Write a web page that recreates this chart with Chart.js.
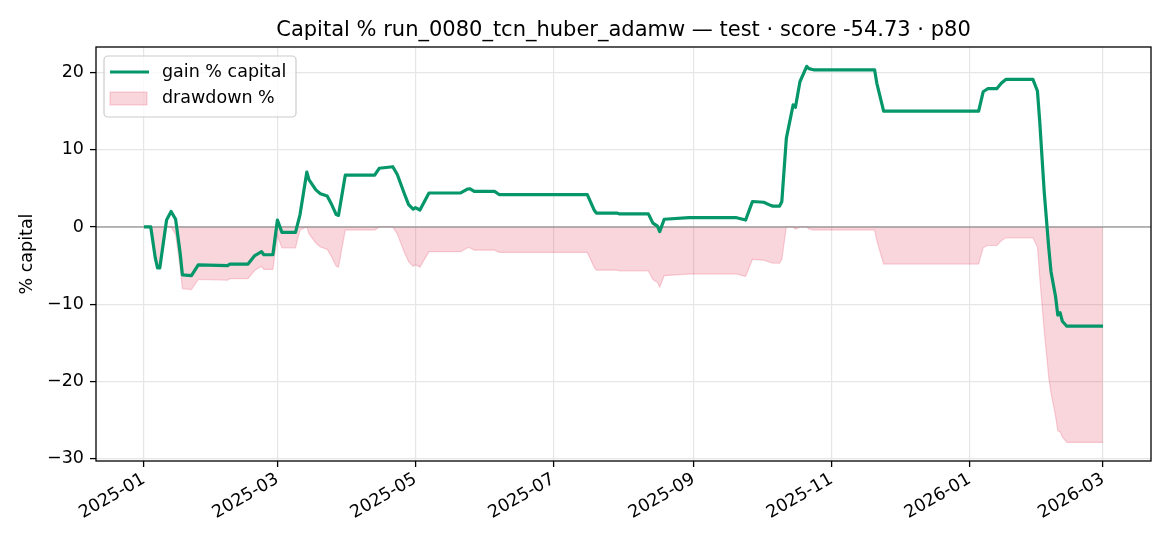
<!DOCTYPE html>
<html>
<head>
<meta charset="utf-8">
<script src="https://cdn.jsdelivr.net/npm/chart.js@4.4.1/dist/chart.umd.min.js"></script>
<style>
  html, body { margin: 0; padding: 0; background: #fff; }
  #wrap { width: 1170px; height: 546px; }
</style>
</head>
<body>
<div id="wrap"><canvas id="chart" width="1170" height="546"></canvas></div>
<script>
// ── Data ───────────────────────────────────────────────────────────────────
const dates = [
  "2025-01-01","2025-01-04","2025-01-06","2025-01-07","2025-01-08","2025-01-11","2025-01-13","2025-01-15",
  "2025-01-17","2025-01-18","2025-01-22","2025-01-25","2025-02-07","2025-02-08","2025-02-16","2025-02-19",
  "2025-02-22","2025-02-23","2025-02-27","2025-03-01","2025-03-03","2025-03-09","2025-03-11","2025-03-14",
  "2025-03-15","2025-03-18","2025-03-20","2025-03-23","2025-03-25","2025-03-27","2025-03-28","2025-03-31",
  "2025-04-13","2025-04-15","2025-04-21","2025-04-23","2025-04-26","2025-04-28","2025-04-30","2025-05-01",
  "2025-05-03","2025-05-05","2025-05-07","2025-05-21","2025-05-24","2025-05-25","2025-05-27","2025-06-05",
  "2025-06-07","2025-07-16","2025-07-19","2025-07-20","2025-07-29","2025-07-30","2025-08-12","2025-08-14",
  "2025-08-16","2025-08-17","2025-08-19","2025-08-30","2025-09-20","2025-09-24","2025-09-27","2025-10-02",
  "2025-10-05","2025-10-06","2025-10-09","2025-10-10","2025-10-12","2025-10-15","2025-10-16","2025-10-18",
  "2025-10-21","2025-10-22","2025-10-24","2025-11-20","2025-11-21","2025-11-24","2026-01-05","2026-01-07",
  "2026-01-09","2026-01-13","2026-01-15","2026-01-17","2026-01-29","2026-01-31","2026-02-01","2026-02-03",
  "2026-02-05","2026-02-06","2026-02-08","2026-02-09","2026-02-10","2026-02-11","2026-02-13","2026-03-01"
];
const gainPct = [
  0, 0, -4.0, -5.3, -5.3, 0.9, 2.0, 1.0,
  -3.4, -6.2, -6.3, -4.9, -5.0, -4.8, -4.8, -3.7,
  -3.2, -3.6, -3.6, 0.9, -0.7, -0.7, 1.6, 7.1,
  6.1, 4.8, 4.3, 4.0, 2.9, 1.6, 1.5, 6.7,
  6.7, 7.6, 7.8, 6.8, 4.4, 2.9, 2.3, 2.5,
  2.2, 3.3, 4.4, 4.4, 4.9, 4.95, 4.6, 4.6,
  4.2, 4.2, 2.2, 1.8, 1.8, 1.7, 1.7, 0.5,
  0.1, -0.6, 1.0, 1.2, 1.2, 0.9, 3.3, 3.2,
  2.8, 2.7, 2.7, 3.3, 11.5, 15.8, 15.5, 18.8,
  20.8, 20.5, 20.35, 20.35, 18.6, 15.0, 15.0, 17.5,
  17.9, 17.9, 18.6, 19.1, 19.1, 17.6, 13.7, 4.5,
  -2.7, -5.8, -9.0, -11.4, -11.1, -12.2, -12.85, -12.85
];
const drawdownPct = [
  0, 0, -4.0, -5.3, -5.3, 0, 0, -1.0,
  -5.3, -8.0, -8.1, -6.8, -6.9, -6.7, -6.7, -5.6,
  -5.1, -5.5, -5.5, -1.1, -2.7, -2.7, -0.4, 0,
  -0.9, -2.1, -2.6, -2.9, -3.9, -5.1, -5.2, -0.4,
  -0.4, 0, 0, -0.9, -3.2, -4.5, -5.1, -4.9,
  -5.2, -4.2, -3.2, -3.2, -2.7, -2.7, -3.0, -3.0,
  -3.3, -3.3, -5.2, -5.6, -5.6, -5.7, -5.7, -6.8,
  -7.2, -7.8, -6.3, -6.1, -6.1, -6.4, -4.2, -4.3,
  -4.6, -4.7, -4.7, -4.2, 0, 0, -0.3, 0,
  0, -0.25, -0.4, -0.4, -1.8, -4.8, -4.8, -2.7,
  -2.4, -2.4, -1.8, -1.4, -1.4, -2.6, -6.5, -13.5,
  -19.5, -21.5, -24.5, -26.4, -26.5, -27.2, -27.9, -27.9
];
const xTickLabels = ["2025-01", "2025-03", "2025-05", "2025-07", "2025-09", "2025-11", "2026-01", "2026-03"];
const yTickValues = [-30, -20, -10, 0, 10, 20];
const yTickLabels = ["\u221230", "\u221220", "\u221210", "0", "10", "20"];
const titleText = "Capital % run_0080_tcn_huber_adamw \u2014 test \u00b7 score -54.73 \u00b7 p80";
const yAxisLabel = "% capital";
const legendLabels = ["gain % capital", "drawdown %"];

// ── Helpers ─────────────────────────────────────────────────────────────────
const BASE = Date.UTC(2025, 0, 1);
function dayOf(s) {
  const p = s.split("-").map(Number);
  return (Date.UTC(p[0], p[1] - 1, p[2] || 1) - BASE) / 86400000;
}
const xs = dates.map(dayOf);
const xTickValues = xTickLabels.map(dayOf);

const GREEN = "#059669";
const PINK = "rgba(220,20,60,0.18)";
const GRID = "#e6e6e6";
const FONT = "'DejaVu Sans', sans-serif";

// ── Extra drawing: title, y label, frame, zero line, legend ─────────────────
const decorPlugin = {
  id: "decor",
  afterDatasetDraw(chart, args) {
    if (args.index !== 1) return;
    const { ctx, chartArea } = chart;
    const y0 = chart.scales.y.getPixelForValue(0);
    ctx.save();
    ctx.strokeStyle = "rgba(128,128,128,0.7)";
    ctx.lineWidth = 1.4;
    ctx.beginPath();
    ctx.moveTo(chartArea.left, y0);
    ctx.lineTo(chartArea.right, y0);
    ctx.stroke();
    ctx.restore();
  },
  afterDraw(chart) {
    const { ctx, chartArea: a } = chart;
    ctx.save();
    // frame
    ctx.strokeStyle = "#000";
    ctx.lineWidth = 1.3;
    ctx.strokeRect(a.left, a.top, a.right - a.left, a.bottom - a.top);

    // title
    ctx.fillStyle = "#000";
    ctx.font = `21px ${FONT}`;
    ctx.textAlign = "center";
    ctx.textBaseline = "alphabetic";
    ctx.fillText(titleText, (a.left + a.right) / 2, 36);

    // y axis label
    ctx.save();
    ctx.translate(27, (a.top + a.bottom) / 2);
    ctx.rotate(-Math.PI / 2);
    ctx.font = `17.5px ${FONT}`;
    ctx.textBaseline = "middle";
    ctx.fillText(yAxisLabel, 0, 0);
    ctx.restore();

    // legend
    ctx.fillStyle = "rgba(255,255,255,0.8)";
    ctx.strokeStyle = "#cccccc";
    ctx.lineWidth = 1.2;
    ctx.beginPath();
    ctx.roundRect(104, 56, 192, 61, 4);
    ctx.fill();
    ctx.stroke();

    ctx.strokeStyle = GREEN;
    ctx.lineWidth = 3.2;
    ctx.beginPath();
    ctx.moveTo(110, 72);
    ctx.lineTo(149, 72);
    ctx.stroke();

    ctx.fillStyle = PINK;
    ctx.fillRect(110, 92, 37, 13);
    ctx.strokeStyle = PINK;
    ctx.lineWidth = 1.2;
    ctx.strokeRect(110, 92, 37, 13);

    ctx.fillStyle = "#000";
    ctx.font = `17.5px ${FONT}`;
    ctx.textAlign = "left";
    ctx.textBaseline = "middle";
    ctx.fillText(legendLabels[0], 162, 72);
    ctx.fillText(legendLabels[1], 162, 98.5);
    ctx.restore();
  }
};

// ── Chart ───────────────────────────────────────────────────────────────────
const ctx = document.getElementById("chart").getContext("2d");
new Chart(ctx, {
  type: "line",
  data: {
    datasets: [
      {
        label: legendLabels[0],
        data: xs.map((x, i) => ({ x, y: gainPct[i] })),
        borderColor: GREEN,
        borderWidth: 3.2,
        borderJoinStyle: "round",
        pointRadius: 0,
        tension: 0,
        fill: false,
      },
      {
        label: legendLabels[1],
        data: xs.map((x, i) => ({ x, y: drawdownPct[i] })),
        borderColor: PINK,
        backgroundColor: PINK,
        borderWidth: 1.2,
        pointRadius: 0,
        tension: 0,
        fill: "origin",
      },
    ],
  },
  options: {
    responsive: false,
    animation: false,
    layout: { padding: { left: 0, right: 19, top: 47, bottom: 0 } },
    plugins: {
      legend: { display: false },
      title: { display: false },
      tooltip: { enabled: false },
    },
    scales: {
      x: {
        type: "linear",
        min: -21.2,
        max: 445.2,
        bounds: "data",
        afterBuildTicks: s => { s.ticks = xTickValues.map(v => ({ value: v })); },
        afterFit: s => { s.height = 85; },
        ticks: {
          autoSkip: false,
          minRotation: 30,
          maxRotation: 30,
          padding: 2,
          color: "#000",
          font: { family: FONT, size: 17.5 },
          callback: (v, i) => xTickLabels[i],
        },
        grid: { color: GRID, lineWidth: 1.2, tickColor: "#000", tickLength: 6, tickWidth: 1.3 },
        border: { display: false },
      },
      y: {
        type: "linear",
        min: -30.3,
        max: 23.3,
        bounds: "data",
        afterBuildTicks: s => { s.ticks = yTickValues.map(v => ({ value: v })); },
        afterFit: s => { s.width = 96; },
        ticks: {
          padding: 6,
          color: "#000",
          font: { family: FONT, size: 17.5 },
          callback: (v, i) => yTickLabels[i],
        },
        grid: { color: GRID, lineWidth: 1.2, tickColor: "#000", tickLength: 6, tickWidth: 1.3 },
        border: { display: false },
      },
    },
  },
  plugins: [decorPlugin],
});
</script>
</body>
</html>
